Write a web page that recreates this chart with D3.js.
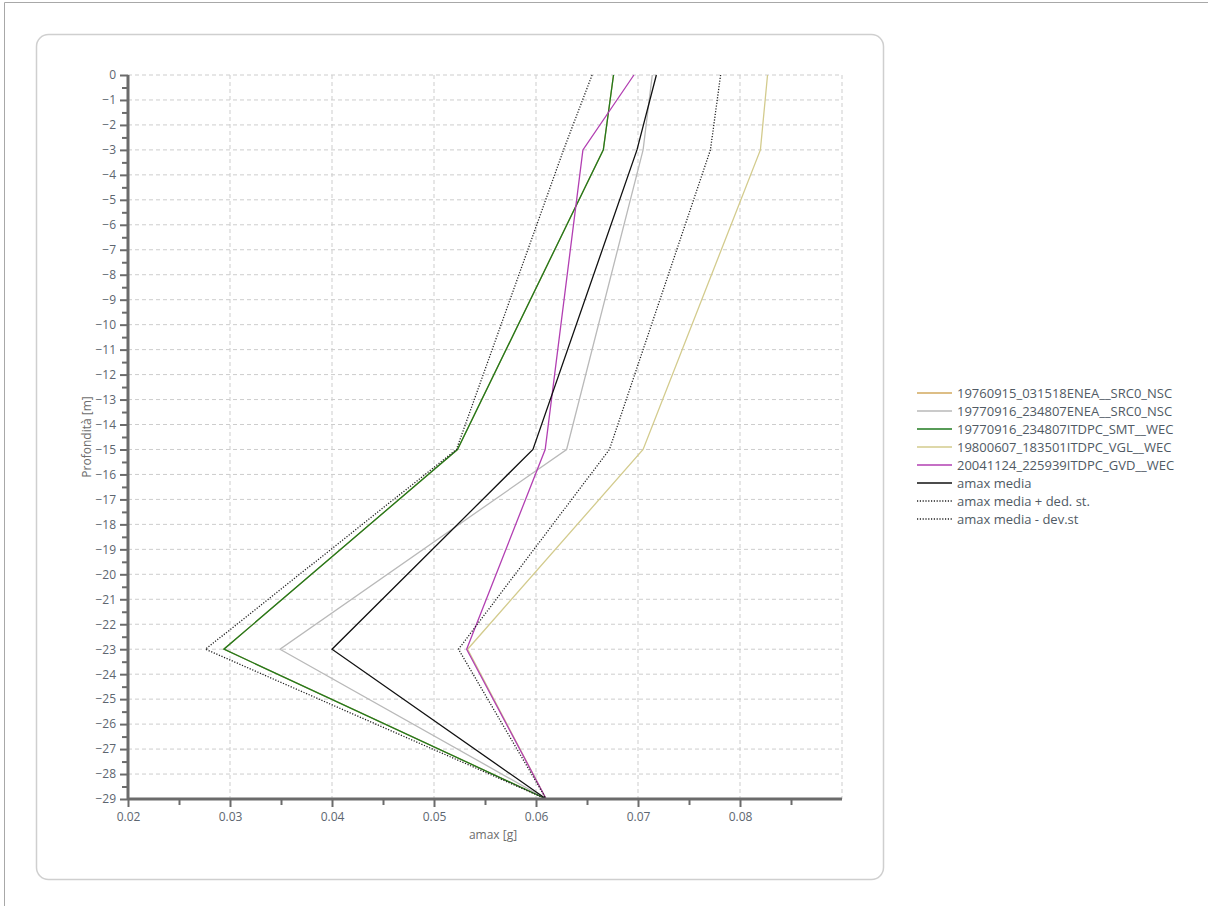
<!DOCTYPE html>
<html>
<head>
<meta charset="utf-8">
<script src="https://cdn.jsdelivr.net/npm/d3@7"></script>
<style>
  html, body { margin: 0; padding: 0; background: #fff; }
  svg { display: block; }
  text { font-family: "Open Sans", "Noto Sans", sans-serif; }
</style>
</head>
<body>
<svg id="chart" width="1208" height="906"></svg>
<script>
// Depth levels (m) at which amax was computed
const depths = [0, -3, -15, -23, -29];

// amax [g] per record, one value per depth level
const s1976ENEA = [0.0676, 0.0666, 0.0523, 0.0294, 0.0610];
const s1977ENEA = [0.0714, 0.0705, 0.0630, 0.0349, 0.0610];
const s1977SMT  = [0.0676, 0.0666, 0.0523, 0.0294, 0.0610];
const s1980VGL  = [0.0827, 0.0820, 0.0705, 0.0533, 0.0610];
const s2004GVD  = [0.0696, 0.0646, 0.0609, 0.0532, 0.0610];
const amaxMean  = [0.0718, 0.0699, 0.0597, 0.0400, 0.0610];
const meanPlus  = [0.0781, 0.0771, 0.0672, 0.0524, 0.0610];
const meanMinus = [0.0655, 0.0627, 0.0522, 0.0276, 0.0610];

const seriesNames = [
  "19760915_031518ENEA__SRC0_NSC",
  "19770916_234807ENEA__SRC0_NSC",
  "19770916_234807ITDPC_SMT__WEC",
  "19800607_183501ITDPC_VGL__WEC",
  "20041124_225939ITDPC_GVD__WEC",
  "amax media",
  "amax media + ded. st.",
  "amax media - dev.st"
];
const seriesValues = [s1976ENEA, s1977ENEA, s1977SMT, s1980VGL, s2004GVD, amaxMean, meanPlus, meanMinus];
const seriesColors = ["#d2a95e", "#b9b9b9", "#1f7a1f", "#d3cb8d", "#b23fb2", "#111111", "#222222", "#222222"];
const seriesDash = [null, null, null, null, null, null, "1.2,1.6", "1.2,1.6"];

const xTicks = [0.02, 0.03, 0.04, 0.05, 0.06, 0.07, 0.08];
const yTicks = d3.range(0, -30, -1);

const svg = d3.select("#chart");

// outer frame of the window
svg.append("path")
  .attr("d", "M4.5,906 V2.5 H1208")
  .attr("fill", "none").attr("stroke", "#a8a8a8").attr("stroke-width", 1);

// rounded panel
svg.append("rect")
  .attr("x", 36.5).attr("y", 34.5).attr("width", 847).attr("height", 845)
  .attr("rx", 12).attr("ry", 12)
  .attr("fill", "#fff").attr("stroke", "#cfcfcf").attr("stroke-width", 1.5);

const plot = { left: 128, right: 842, top: 75, bottom: 799 };

const x = d3.scaleLinear().domain([0.02, 0.09]).range([plot.left, plot.right]);
const y = d3.scaleLinear().domain([0, -29]).range([plot.top, plot.bottom]);

// grid
const grid = svg.append("g").attr("stroke", "#cdcdcd").attr("stroke-dasharray", "4,3").attr("stroke-width", 1);
xTicks.slice(1).forEach(t => {
  grid.append("line").attr("x1", x(t)).attr("x2", x(t)).attr("y1", plot.top).attr("y2", plot.bottom);
});
grid.append("line").attr("x1", x(0.09)).attr("x2", x(0.09)).attr("y1", plot.top).attr("y2", plot.bottom);
yTicks.slice(0, -1).forEach(t => {
  grid.append("line").attr("x1", plot.left).attr("x2", plot.right).attr("y1", y(t)).attr("y2", y(t));
});

// series
const line = d3.line().x(d => x(d[0])).y(d => y(d[1]));
seriesValues.forEach((vals, i) => {
  svg.append("path")
    .datum(vals.map((v, k) => [v, depths[k]]))
    .attr("d", line)
    .attr("fill", "none")
    .attr("stroke", seriesColors[i])
    .attr("stroke-width", 1.3)
    .attr("stroke-dasharray", seriesDash[i]);
});

// axes
const axisColor = "#6b6b6b";
const xAxis = svg.append("g").attr("transform", `translate(0,${plot.bottom})`)
  .call(d3.axisBottom(x).tickValues(xTicks).tickFormat(d3.format(".2f")).tickSize(8).tickPadding(5));
const xMinor = svg.append("g").attr("transform", `translate(0,${plot.bottom})`)
  .call(d3.axisBottom(x).tickValues([0.025, 0.035, 0.045, 0.055, 0.065, 0.075, 0.085]).tickFormat("").tickSize(6));
const yAxis = svg.append("g").attr("transform", `translate(${plot.left},0)`)
  .call(d3.axisLeft(y).tickValues(yTicks).tickFormat(d3.format("d")).tickSize(8).tickPadding(4));
const yMinor = svg.append("g").attr("transform", `translate(${plot.left},0)`)
  .call(d3.axisLeft(y).tickValues(d3.range(-0.5, -29, -1)).tickFormat("").tickSize(6));

[xAxis, xMinor, yAxis, yMinor].forEach(g => {
  g.select(".domain").attr("stroke", axisColor).attr("stroke-width", 3);
  g.selectAll(".tick line").attr("stroke", axisColor).attr("stroke-width", 2);
  g.selectAll(".tick text").attr("fill", "#5d6670").attr("font-size", 12)
    .attr("font-family", "'Open Sans', 'Noto Sans', sans-serif");
});
xAxis.select(".domain").attr("d", `M${plot.left},0H${plot.right}`);
xMinor.select(".domain").remove();
yAxis.select(".domain").attr("d", `M0,${plot.top}V${plot.bottom}`);
yMinor.select(".domain").remove();

// axis titles
svg.append("text")
  .attr("x", (plot.left + plot.right) / 2 + 8).attr("y", 839)
  .attr("text-anchor", "middle").attr("font-size", 12).attr("fill", "#6d6d6d")
  .text("amax [g]");
svg.append("text")
  .attr("transform", `translate(91,${(plot.top + plot.bottom) / 2}) rotate(-90)`)
  .attr("text-anchor", "middle").attr("font-size", 12).attr("fill", "#6d6d6d")
  .text("Profondità [m]");

// legend
const legend = svg.append("g").attr("transform", "translate(917,393)");
seriesNames.forEach((name, i) => {
  const row = legend.append("g").attr("transform", `translate(0,${i * 18})`);
  row.append("line").attr("x1", 0).attr("x2", 35).attr("y1", 0).attr("y2", 0)
    .attr("stroke", seriesColors[i]).attr("stroke-width", 1.5)
    .attr("stroke-dasharray", seriesDash[i]);
  row.append("text").attr("x", 40).attr("y", 0).attr("dy", "0.35em")
    .attr("font-size", 13).attr("fill", "#505a64").text(name);
});
</script>
</body>
</html>
